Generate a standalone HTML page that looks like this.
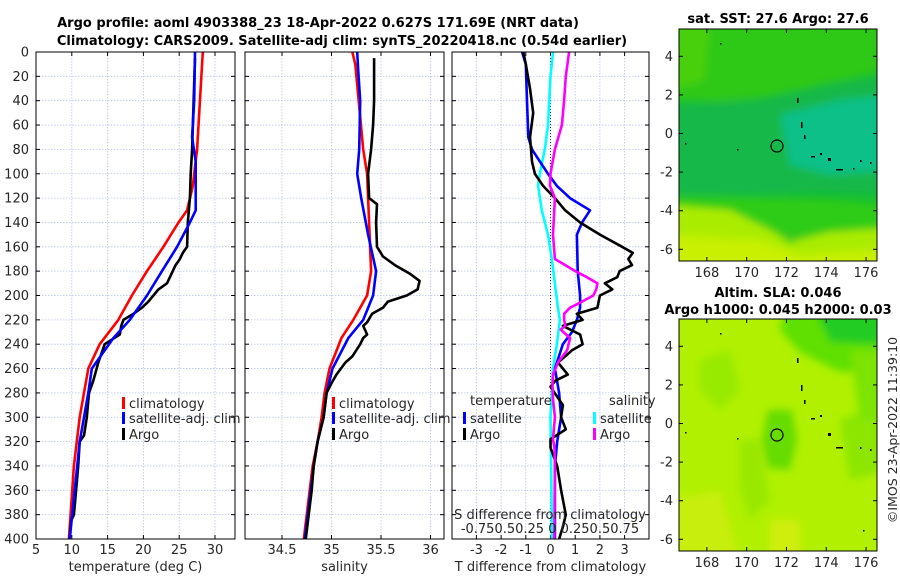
<!DOCTYPE html>
<html><head><meta charset="utf-8"><style>
html,body{margin:0;padding:0;background:#fff;}
svg{display:block;font-family:"DejaVu Sans","Liberation Sans",sans-serif;}
</style></head><body>
<svg id="c" width="900" height="580" viewBox="0 0 900 580">
<defs>
<clipPath id="cp1"><rect x="36" y="52" width="199" height="487"/></clipPath>
<clipPath id="cp2"><rect x="245" y="52" width="199" height="487"/></clipPath>
<clipPath id="cp3"><rect x="452" y="52" width="197" height="487"/></clipPath>
<clipPath id="cm1"><rect x="679" y="29" width="198" height="232"/></clipPath>
<clipPath id="cm2"><rect x="679" y="319" width="198" height="232"/></clipPath>
<filter id="bl"><feGaussianBlur stdDeviation="4"/></filter>
</defs>
<text x="318" y="27" text-anchor="middle" font-weight="bold" font-size="13">Argo profile: aoml 4903388_23 18-Apr-2022 0.627S 171.69E (NRT data)</text>
<text x="342" y="45" text-anchor="middle" font-weight="bold" font-size="13">Climatology: CARS2009. Satellite-adj clim: synTS_20220418.nc (0.54d earlier)</text>

<!-- top map -->
<g clip-path="url(#cm1)">
<rect x="679" y="29" width="198" height="232" fill="#16c030"/>
<g filter="url(#bl)">
<polygon points="670,20 890,20 890,70 820,85 760,98 720,102 670,100" fill="#2ec818"/>
<polygon points="670,20 710,20 705,80 670,90" fill="#48d010"/>
<polygon points="670,105 760,100 830,85 890,75 890,195 820,192 760,195 670,195" fill="#12b848"/>
<polygon points="780,115 840,100 890,95 890,170 830,175 790,165" fill="#08c088"/>
<polygon points="670,196 760,198 830,200 890,205 890,230 850,236 800,240 780,236 740,224 670,215" fill="#2ecc14"/>
<polygon points="670,205 730,210 770,230 790,242 830,232 890,228 890,270 670,270" fill="#aaec00"/>
<polygon points="670,235 760,240 800,255 880,250 890,270 670,270" fill="#c8f000"/>
</g>
<circle cx="777" cy="146" r="6" fill="none" stroke="#000" stroke-width="1.2"/>
<g fill="#000"><rect x="797" y="98" width="1.5" height="5"/><rect x="801" y="122" width="1.5" height="6"/><rect x="804" y="135" width="1.5" height="4"/><rect x="811" y="156" width="4" height="1.5"/><rect x="820" y="153" width="2" height="2"/><rect x="828" y="158" width="3" height="3"/><rect x="836" y="169" width="7" height="1.5"/><rect x="860" y="160" width="1.5" height="2"/><rect x="870" y="162" width="1.5" height="2"/><rect x="685" y="143" width="1.5" height="1.5"/><rect x="737" y="149" width="1.5" height="1.5"/><rect x="720" y="43" width="1.5" height="1.5"/><rect x="853" y="168" width="1.5" height="1.5"/></g>
</g>
<rect x="679" y="29" width="198" height="232" fill="none" stroke="#000" stroke-width="1"/>
<text x="778" y="23" text-anchor="middle" font-weight="bold" font-size="13">sat. SST: 27.6 Argo: 27.6</text>

<!-- bottom map -->
<g clip-path="url(#cm2)">
<rect x="679" y="319" width="198" height="232" fill="#b0f000"/>
<g filter="url(#bl)">
<polygon points="785,310 890,310 890,370 840,372 800,352 780,330" fill="#5ee000"/>
<polygon points="815,310 890,310 890,345 830,342" fill="#20cc20"/>
<polygon points="768,410 792,410 797,440 790,470 768,468 762,440" fill="#66dc00"/>
<polygon points="700,360 730,350 740,390 720,410 700,390" fill="#98ea00"/>
<polygon points="740,440 760,440 770,500 750,520 740,490" fill="#9ae800"/>
<polygon points="840,420 890,400 890,470 850,480" fill="#8ce600"/>
<polygon points="850,350 890,350 890,420 860,420" fill="#7ce400"/>
<polygon points="670,500 720,490 740,560 670,560" fill="#c8ee10"/>
<polygon points="770,520 800,520 800,560 770,560" fill="#d0ee10"/>
</g>
<circle cx="777" cy="435" r="6" fill="none" stroke="#000" stroke-width="1.2"/>
<g fill="#000"><rect x="797" y="358" width="1.5" height="5"/><rect x="801" y="385" width="1.5" height="6"/><rect x="804" y="400" width="1.5" height="4"/><rect x="811" y="418" width="4" height="1.5"/><rect x="820" y="415" width="2" height="2"/><rect x="828" y="433" width="3" height="3"/><rect x="836" y="447" width="7" height="1.5"/><rect x="860" y="447" width="1.5" height="2"/><rect x="870" y="449" width="1.5" height="2"/><rect x="685" y="432" width="1.5" height="1.5"/><rect x="737" y="438" width="1.5" height="1.5"/><rect x="720" y="333" width="1.5" height="1.5"/><rect x="863" y="530" width="1.5" height="1.5"/></g>
</g>
<rect x="679" y="319" width="198" height="232" fill="none" stroke="#000" stroke-width="1"/>
<text x="778" y="297" text-anchor="middle" font-weight="bold" font-size="13">Altim. SLA: 0.046</text>
<text x="778" y="314" text-anchor="middle" font-weight="bold" font-size="13">Argo h1000: 0.045 h2000: 0.03</text>
<text transform="translate(897,430) rotate(-90)" text-anchor="middle" font-size="12.5" fill="#262626">©IMOS 23-Apr-2022 11:39:10</text>
</svg>
<script>
// ---- data ----
const depthTicks=[0,20,40,60,80,100,120,140,160,180,200,220,240,260,280,300,320,340,360,380,400];
const tempTicks=[5,10,15,20,25,30];
const salTicks=[34.5,35,35.5,36];
const salTickLabels=["34.5","35","35.5","36"];
const dTTicks=[-3,-2,-1,0,1,2,3];
const latTicks=[4,2,0,-2,-4,-6];
const lonTicks=[168,170,172,174,176];

const climTdepth=[0,80,110,130,140,160,180,200,220,240,260,280,300,320,340,400];
const climT=[28.3,27.5,26.9,26.1,24.9,22.8,20.5,18.4,16.5,13.9,12.3,11.7,11.1,10.7,10.3,9.6];
const satTdepth=[0,40,70,90,130,140,160,180,200,220,235,260,280,300,320,360,400];
const satT=[27.2,27.1,26.8,27.3,27.3,26.5,24.7,22.6,20.5,18.1,15.8,12.8,12.3,11.7,11.1,10.4,9.7];
const argoTdepth=[5,80,100,120,140,160,165,170,175,185,190,195,200,205,210,215,220,225,232,240,255,270,280,300,315,320,340,360,380,385,400];
const argoT=[27.2,26.8,26.6,26.5,26.2,26.1,25.5,25.1,24.5,23.7,23.3,22.1,21.4,20.7,19.8,18.6,17.2,16.9,16.7,14.6,13.7,13.0,12.4,12.1,11.7,11.1,10.9,10.6,10.3,9.9,9.7];

const climSdepth=[0,10,80,100,140,180,200,220,235,260,280,300,320,340,360,400];
const climS=[35.21,35.24,35.32,35.36,35.38,35.40,35.36,35.22,35.10,34.98,34.93,34.90,34.86,34.81,34.78,34.72];
const satSdepth=[0,15,40,80,100,120,150,180,200,220,235,260,280,300,320,340,400];
const satS=[35.26,35.27,35.29,35.28,35.26,35.30,35.37,35.45,35.42,35.32,35.17,35.01,34.95,34.92,34.86,34.82,34.73];
const argoSdepth=[5,40,60,80,100,120,125,140,160,168,175,182,188,195,200,205,210,215,222,225,232,235,240,250,255,265,272,280,300,320,340,360,380,400];
const argoS=[35.43,35.43,35.42,35.40,35.37,35.38,35.46,35.45,35.46,35.52,35.64,35.79,35.89,35.87,35.76,35.57,35.52,35.41,35.36,35.32,35.36,35.32,35.29,35.21,35.14,35.05,35.0,34.95,34.92,34.86,34.82,34.80,34.77,34.74];

const dTsatDepth=[0,10,40,70,80,90,100,110,120,130,140,150,180,200,210,220,230,240,260,280,300,320,340,400];
const dTsat=[-1.15,-1.0,-0.95,-0.9,-0.75,-0.43,-0.1,0.26,0.79,1.6,1.28,1.07,1.1,1.2,1.2,1.07,0.87,0.5,0.18,0.35,0.43,0.27,0.18,0.18];
const dTargoDepth=[0,10,30,50,70,90,100,110,120,130,140,150,160,165,170,175,180,185,190,195,200,210,215,220,225,232,240,245,250,255,265,270,275,290,300,310,318,325,340,360,380,390,400];
const dTargo=[-1.1,-1.0,-0.83,-0.7,-0.83,-0.75,-0.63,-0.3,0.18,0.59,1.2,2.0,2.9,3.33,3.15,3.3,2.8,2.7,2.2,2.5,2.0,1.9,1.07,1.3,0.5,1.2,1.3,0.87,0.59,0.3,0.7,0.2,0.0,0.5,0.43,0.62,0.0,0.0,0.27,0.43,0.62,0.5,0.35];
const dSsatDepth=[0,20,60,80,100,110,130,150,170,190,210,220,240,260,300,400];
const dSsat=[0.025,0,-0.025,-0.058,-0.108,-0.125,-0.088,-0.025,0.013,0.045,0.075,0.095,0.065,0.025,0,0.015];
const dSargoDepth=[0,20,40,60,80,100,110,120,150,170,175,180,185,190,195,200,205,210,215,220,225,228,235,245,255,265,275,285,300,318,325,340,400];
const dSargo=[0.188,0.155,0.138,0.115,0.045,0,-0.005,0.045,0.025,0.045,0.15,0.25,0.368,0.475,0.463,0.433,0.32,0.198,0.138,0.138,0.15,0.103,0.198,0.168,0.075,0.025,0.02,0.025,0.045,0.025,0.04,0.045,0.038];

// ---- scales ----
const Y0=52,PXM=1.2175;
function yD(d){return Y0+d*PXM;}
function xT(t){return 36+(t-5)*7.16;}
function xS(s){return 282+(s-34.5)*99;}
function xDT(t){return 550.5+t*24.7;}
function xDS(s){return xDT(s*4);}
function latY1(l){return 133.5-l*19.3;}
function latY2(l){return 423.5-l*19.3;}
function lonX(l){return 679+(l-166.6)*19.9;}

const NS="http://www.w3.org/2000/svg";
const svg=document.getElementById('c');
function mk(tag,attrs,parent){const e=document.createElementNS(NS,tag);for(const k in attrs)e.setAttribute(k,attrs[k]);(parent||svg).appendChild(e);return e;}

const panels=[
 {x:36,w:199,xs:xT,ticks:tempTicks,labels:tempTicks.map(String),title:"temperature (deg C)",clip:"cp1",name:"temperature-panel"},
 {x:245,w:199,xs:xS,ticks:salTicks,labels:salTickLabels,title:"salinity",clip:"cp2",name:"salinity-panel"},
 {x:452,w:197,xs:xDT,ticks:dTTicks,labels:dTTicks.map(String),title:"T difference from climatology",clip:"cp3",name:"difference-panel"}
];
panels.forEach((p,pi)=>{
 const g=mk('g',{});
 
 
 mk('rect',{x:p.x,y:52,width:p.w,height:487,fill:'#fff'},g);
 depthTicks.forEach(d=>{
  const l=mk('line',{x1:p.x,x2:p.x+p.w,y1:yD(d),y2:yD(d),stroke:'#b8c4e8','stroke-width':0.8,'stroke-dasharray':'1.5,1.5'},g);
  
  
  mk('line',{x1:p.x,x2:p.x+4,y1:yD(d),y2:yD(d),stroke:'#000'},g);
  mk('line',{x1:p.x+p.w-4,x2:p.x+p.w,y1:yD(d),y2:yD(d),stroke:'#000'},g);
  if(pi===0){
   const t=mk('text',{x:29,y:yD(d)+4.5,'text-anchor':'end','font-size':13,fill:'#262626'},g);
   t.textContent=d;
   
   
  }
 });
 p.ticks.forEach((v,i)=>{
  const x=p.xs(v);
  const l=mk('line',{x1:x,x2:x,y1:52,y2:539,stroke:'#b8c4e8','stroke-width':0.8,'stroke-dasharray':'1.5,1.5'},g);
  
  
  mk('line',{x1:x,x2:x,y1:539,y2:535,stroke:'#000'},g);
  mk('line',{x1:x,x2:x,y1:52,y2:56,stroke:'#000'},g);
  const t=mk('text',{x:x,y:554,'text-anchor':'middle','font-size':13,fill:'#262626'},g);
  t.textContent=p.labels[i];
  
  
 });
 const tt=mk('text',{x:p.x+p.w/2,y:571,'text-anchor':'middle','font-size':13,fill:'#262626'},g);
 tt.textContent=p.title;
 
 
});
const zl=mk('line',{x1:xDT(0),x2:xDT(0),y1:52,y2:539,stroke:'#333','stroke-width':1,'stroke-dasharray':'1,2'});



function series(depths,vals,xs,color,clip,name){
 const pts=depths.map((d,i)=>xs(vals[i]).toFixed(1)+','+yD(d).toFixed(1)).join(' ');
 const pl=mk('polyline',{points:pts,fill:'none',stroke:color,'stroke-width':2.6,'stroke-linejoin':'round','clip-path':'url(#'+clip+')'});
 
 
}
series(climTdepth,climT,xT,'#ff0000','cp1','temp-climatology-line');
series(argoTdepth,argoT,xT,'#000000','cp1','temp-argo-line');
series(satTdepth,satT,xT,'#0000ff','cp1','temp-satellite-line');
series(climSdepth,climS,xS,'#ff0000','cp2','sal-climatology-line');
series(satSdepth,satS,xS,'#0000ff','cp2','sal-satellite-line');
series(argoSdepth,argoS,xS,'#000000','cp2','sal-argo-line');
series(dSsatDepth,dSsat,xDS,'#00ffff','cp3','dsal-satellite-line');
series(dTsatDepth,dTsat,xDT,'#0000ff','cp3','dtemp-satellite-line');
series(dTargoDepth,dTargo,xDT,'#000000','cp3','dtemp-argo-line');
series(dSargoDepth,dSargo,xDS,'#ff00ff','cp3','dsal-argo-line');

panels.forEach(p=>{
 const r=mk('rect',{x:p.x,y:52,width:p.w,height:487,fill:'none',stroke:'#000','stroke-width':1});
 
 
});

function legItem(x,y,color,label){
 mk('rect',{x:x,y:y-11,width:3,height:12,fill:color});
 const t=mk('text',{x:x+7,y:y,'font-size':13,fill:'#262626'});
 t.textContent=label;
 
 
}
[122,332].forEach(lx=>{
 legItem(lx,408,'#ff0000','climatology');
 legItem(lx,423,'#0000ff','satellite-adj. clim');
 legItem(lx,439,'#000000','Argo');
});
function plainText(x,y,s,name,anchor){
 const t=mk('text',{x:x,y:y,'font-size':13,fill:'#262626','text-anchor':anchor||'start'});
 t.textContent=s;
 
 
}
plainText(470,405,'temperature','legend-temperature-header');
plainText(609,405,'salinity','legend-salinity-header');
legItem(463,423,'#0000ff','satellite');
legItem(463,439,'#000000','Argo');
legItem(593,423,'#00ffff','satellite');
legItem(593,439,'#ff00ff','Argo');
plainText(550,519,'S difference from climatology','s-axis-title','middle');
plainText(550,533,'-0.750.50.25 0 0.250.50.75','s-axis-tick-labels','middle');

[[latY1,29,261],[latY2,319,551]].forEach(([ly,top,bot])=>{
 latTicks.forEach(l=>{
  const y=ly(l);
  mk('line',{x1:679,x2:683,y1:y,y2:y,stroke:'#000'});
  mk('line',{x1:873,x2:877,y1:y,y2:y,stroke:'#000'});
  const t=mk('text',{x:673,y:y+4.5,'text-anchor':'end','font-size':13,fill:'#262626'});
  t.textContent=l;
  
  
 });
 lonTicks.forEach(l=>{
  const x=lonX(l);
  mk('line',{x1:x,x2:x,y1:bot,y2:bot-4,stroke:'#000'});
  mk('line',{x1:x,x2:x,y1:top,y2:top+4,stroke:'#000'});
  const t=mk('text',{x:x,y:bot+16,'text-anchor':'middle','font-size':13,fill:'#262626'});
  t.textContent=l;
  
  
 });
});
</script>
</body></html>
